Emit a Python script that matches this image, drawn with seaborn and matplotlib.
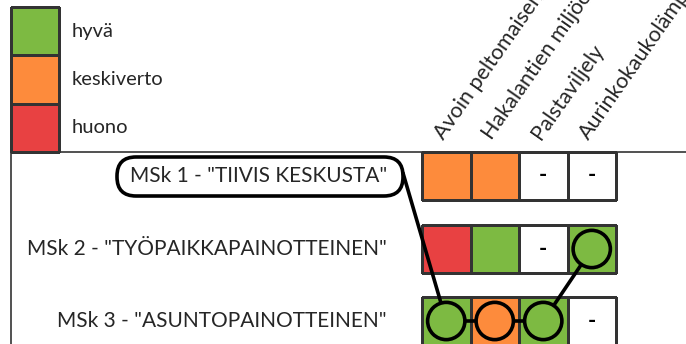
import numpy as np
import matplotlib
matplotlib.use("Agg")
import matplotlib.pyplot as plt
from matplotlib.colors import ListedColormap
from matplotlib.patches import FancyBboxPatch
import seaborn as sns

# rating scale and colours (index = value in the heatmap)
levels = ["-", "huono", "keskiverto", "hyvä"]
level_colors = ["#ffffff", "#e84142", "#fd8b3c", "#7dba42"]
legend_levels = ["hyvä", "keskiverto", "huono"]

criteria = ["Avoin peltomaisen",
            "Hakalantien miljöö",
            "Palstaviljely",
            "Aurinkokaukolämpö"]
scenarios = ['MSk 1 - "TIIVIS KESKUSTA"',
             'MSk 2 - "TYÖPAIKKAPAINOTTEINEN"',
             'MSk 3 - "ASUNTOPAINOTTEINEN"']
ratings = [
    ["keskiverto", "keskiverto", "-", "-"],
    ["huono", "hyvä", "-", "hyvä"],
    ["hyvä", "keskiverto", "hyvä", "-"],
]
# circled cells joined by a line, (row, col)
path_cells = [(2, 0), (2, 1), (2, 2), (1, 3)]
boxed_row = 0

sns.set_theme(style="white")
plt.rcParams["font.family"] = ["Lato", "DejaVu Sans"]

W, H = 686, 344
fig = plt.figure(figsize=(W / 100, H / 100), dpi=100)


def px_axes(x0, y0, w, h):
    return fig.add_axes([x0 / W, 1 - (y0 + h) / H, w / W, h / H])


cmap = ListedColormap(level_colors)
edge = "#333333"

# legend squares
leg_ax = px_axes(11, 7, 48, 145)
leg_vals = np.array([[levels.index(l)] for l in legend_levels])
sns.heatmap(leg_vals, ax=leg_ax, cmap=cmap, vmin=-0.5, vmax=3.5, cbar=False,
            linewidths=1, linecolor=edge, xticklabels=False, yticklabels=False)
leg_ax.collections[0].set_clip_on(False)

# one heatmap strip per scenario
row_tops = [152, 225, 297]
row_axes = []
for r, top in enumerate(row_tops):
    a = px_axes(422, top, 194, 48)
    vals = np.array([[levels.index(v) for v in ratings[r]]])
    annot = np.array([["-" if v == "-" else "" for v in ratings[r]]])
    sns.heatmap(vals, ax=a, cmap=cmap, vmin=-0.5, vmax=3.5, cbar=False,
                linewidths=1, linecolor=edge, annot=annot, fmt="",
                annot_kws={"fontsize": 16, "fontweight": "bold", "color": "black"},
                xticklabels=False, yticklabels=False)
    a.collections[0].set_clip_on(False)
    row_axes.append(a)

# overlay in pixel coordinates
ov = fig.add_axes([0, 0, 1, 1])
ov.set_xlim(0, W)
ov.set_ylim(H, 0)
ov.axis("off")
ov.set_zorder(5)
ov.patch.set_alpha(0)


def to_px(a, x, y):
    return ov.transData.inverted().transform(a.transData.transform((x, y)))


for i, lab in enumerate(legend_levels):
    cx, cy = to_px(leg_ax, 1, i + 0.5)
    ov.text(72, cy, lab, fontsize=14.5, ha="left", va="center")

# frame lines
ov.plot([11, W], [152, 152], color=edge, lw=1.2)
ov.plot([11, 11], [152, H], color=edge, lw=1.2)

# column headers (cut at the top edge, as in the original)
for c, lab in enumerate(criteria):
    cx, cy = to_px(row_axes[0], c + 0.5, 0)
    ov.text(cx - 3, 141, lab, fontsize=15.5, rotation=55, rotation_mode="anchor",
            ha="left", va="baseline")

# row labels
for r, lab in enumerate(scenarios):
    cx, cy = to_px(row_axes[r], 0, 0.5)
    ov.text(387, cy, lab, fontsize=15, ha="right", va="center")

bx0, by0 = to_px(row_axes[boxed_row], 0, 0.5)
box = FancyBboxPatch((117, by0 - 19), 286, 39,
                     boxstyle="round,pad=0,rounding_size=19",
                     fc="none", ec="black", lw=2.6)
ov.add_patch(box)

# path of circled cells
pts = [to_px(row_axes[r], c + 0.5, 0.5) for r, c in path_cells]
xs = [403] + [p[0] for p in pts]
ys = [by0 - 3] + [p[1] for p in pts]
ov.plot(xs, ys, color="black", lw=2.6, zorder=2, solid_capstyle="round")
ov.scatter([p[0] for p in pts], [p[1] for p in pts], s=720,
           c=[level_colors[levels.index(ratings[r][c])] for r, c in path_cells],
           edgecolors="black", linewidths=2.6, zorder=3)

fig.savefig("out.png", dpi=100)
